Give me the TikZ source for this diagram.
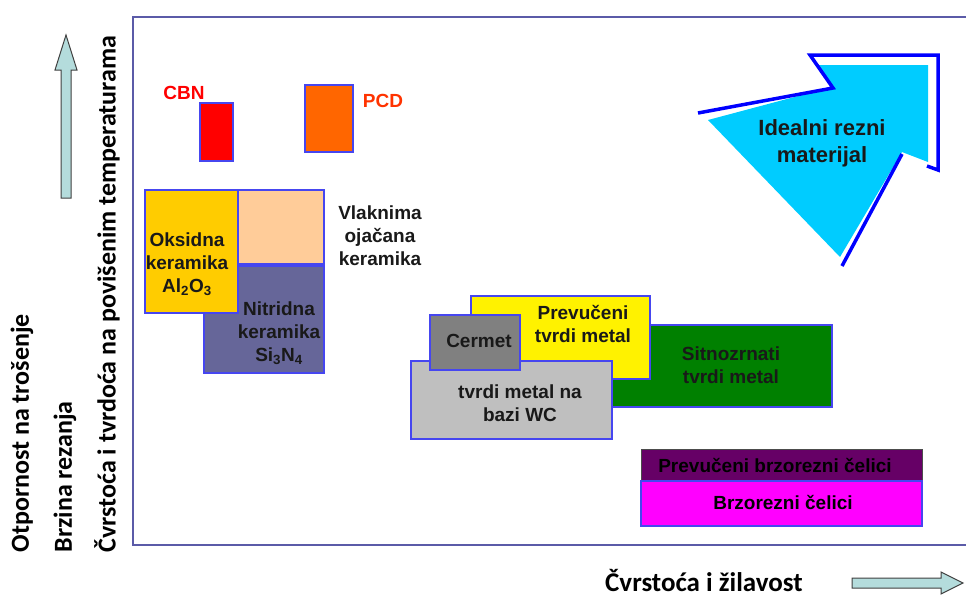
\documentclass[tikz,border=0pt]{standalone}
\usepackage{fontspec}
\setmainfont{Liberation Sans}
\newfontfamily\calibri{Carlito}
\definecolor{frameblue}{HTML}{5B5BA8}
\definecolor{boxblue}{HTML}{4646F0}
\definecolor{peach}{HTML}{FFCC99}
\definecolor{oxgold}{HTML}{FFCC00}
\definecolor{nitslate}{HTML}{666699}
\definecolor{pcdorange}{HTML}{FF6600}
\definecolor{pcdtext}{HTML}{FF3300}
\definecolor{hsspurple}{HTML}{660066}
\definecolor{hsspink}{HTML}{FF00FF}
\definecolor{idealcyan}{HTML}{00CCFF}
\definecolor{axisfill}{HTML}{B4DCDC}
\begin{document}
\begin{tikzpicture}[x=1pt,y=-1pt,
  box/.style={draw=boxblue,line width=1.2pt},
  lbl/.style={font=\bfseries\fontsize{19}{23}\selectfont,align=center,text=black!90},
  axlbl/.style={font=\calibri\bfseries\fontsize{26}{30}\selectfont,rotate=90,anchor=west},
  hollow/.style={draw=black!75,line width=1pt,fill=axisfill}]
\useasboundingbox (0,0) rectangle (966,595);
% frame
\draw[frameblue,line width=2pt] (966,17) -- (133,17) -- (133,545) -- (966,545);
% axis arrows and labels
\draw[hollow] (66,35) -- (77,70) -- (71,70) -- (71,198) -- (61,198) -- (61,70) -- (55,70) -- cycle;
\draw[hollow] (963,583) -- (941,572) -- (941,578) -- (852,578) -- (852,588) -- (941,588) -- (941,594) -- cycle;
\node[axlbl] (wear) at (22,556) {Otpornost na trošenje};
\node[axlbl] (speed) at (65,556) {Brzina rezanja};
\node[axlbl] (hot) at (107,556) {Čvrstoća i tvrdoća na povišenim temperaturama};
\node[font=\calibri\bfseries\fontsize{27}{30}\selectfont,anchor=west,inner sep=0pt] (tough) at (605,580) {Čvrstoća i žilavost};
% superhard
\draw[box,fill=red] (200,103) rectangle (233,161);
\node[lbl,text=red] (cbn) at (184,93) {CBN};
\draw[box,fill=pcdorange] (305,85) rectangle (353,152);
\node[lbl,text=pcdtext] (pcd) at (383,101) {PCD};
% ceramics
\draw[box,fill=peach] (200,190) rectangle (324,264);
\draw[box,fill=nitslate] (204,266) rectangle (324,373);
\draw[box,fill=oxgold] (145,190) rectangle (238,313);
\node[lbl] (oks) at (187,264) {Oksidna\\keramika\\Al\textsubscript{2}O\textsubscript{3}};
\node[lbl] (nit) at (279,333) {Nitridna\\keramika\\Si\textsubscript{3}N\textsubscript{4}};
\node[lbl] (vlak) at (380,236) {Vlaknima\\ojačana\\keramika};
% hard metals
\draw[box,fill=green!50!black] (605,325) rectangle (832,407);
\draw[box,fill=yellow] (471,296) rectangle (650,379);
\draw[box,fill=lightgray] (411,361) rectangle (612,439);
\draw[box,fill=gray] (430,315) rectangle (520,370);
\node[lbl] (sitno) at (731,365) {Sitnozrnati\\tvrdi metal};
\node[lbl] (prevtm) at (583,324) {Prevučeni\\tvrdi metal};
\node[lbl] (wc) at (520,403) {tvrdi metal na\\bazi WC};
\node[lbl] (cermet) at (479,341) {Cermet};
% high speed steels
\draw[draw=black!70,line width=1pt,fill=hsspurple] (641,449) rectangle (922,481);
\draw[box,fill=hsspink] (641,481) rectangle (922,526);
\node[lbl,text=black] (prevhss) at (775,465) {Prevučeni brzorezni čelici};
\node[lbl,text=black] (hss) at (783,502) {Brzorezni čelici};
% ideal material
\fill[idealcyan] (818,65) -- (928,65) -- (928,162) -- (902,152) -- (840,257) -- (708,120) -- (832,87) -- cycle;
\draw[blue,line width=3.5pt] (698,113) -- (833,88) -- (810,55) -- (938,55) -- (938,170) -- (927,166);
\draw[blue,line width=3.5pt] (902,154) -- (842,266);
\node[lbl,font=\bfseries\fontsize{22}{27}\selectfont] (ideal) at (822,143) {Idealni rezni\\materijal};
\end{tikzpicture}
\end{document}
